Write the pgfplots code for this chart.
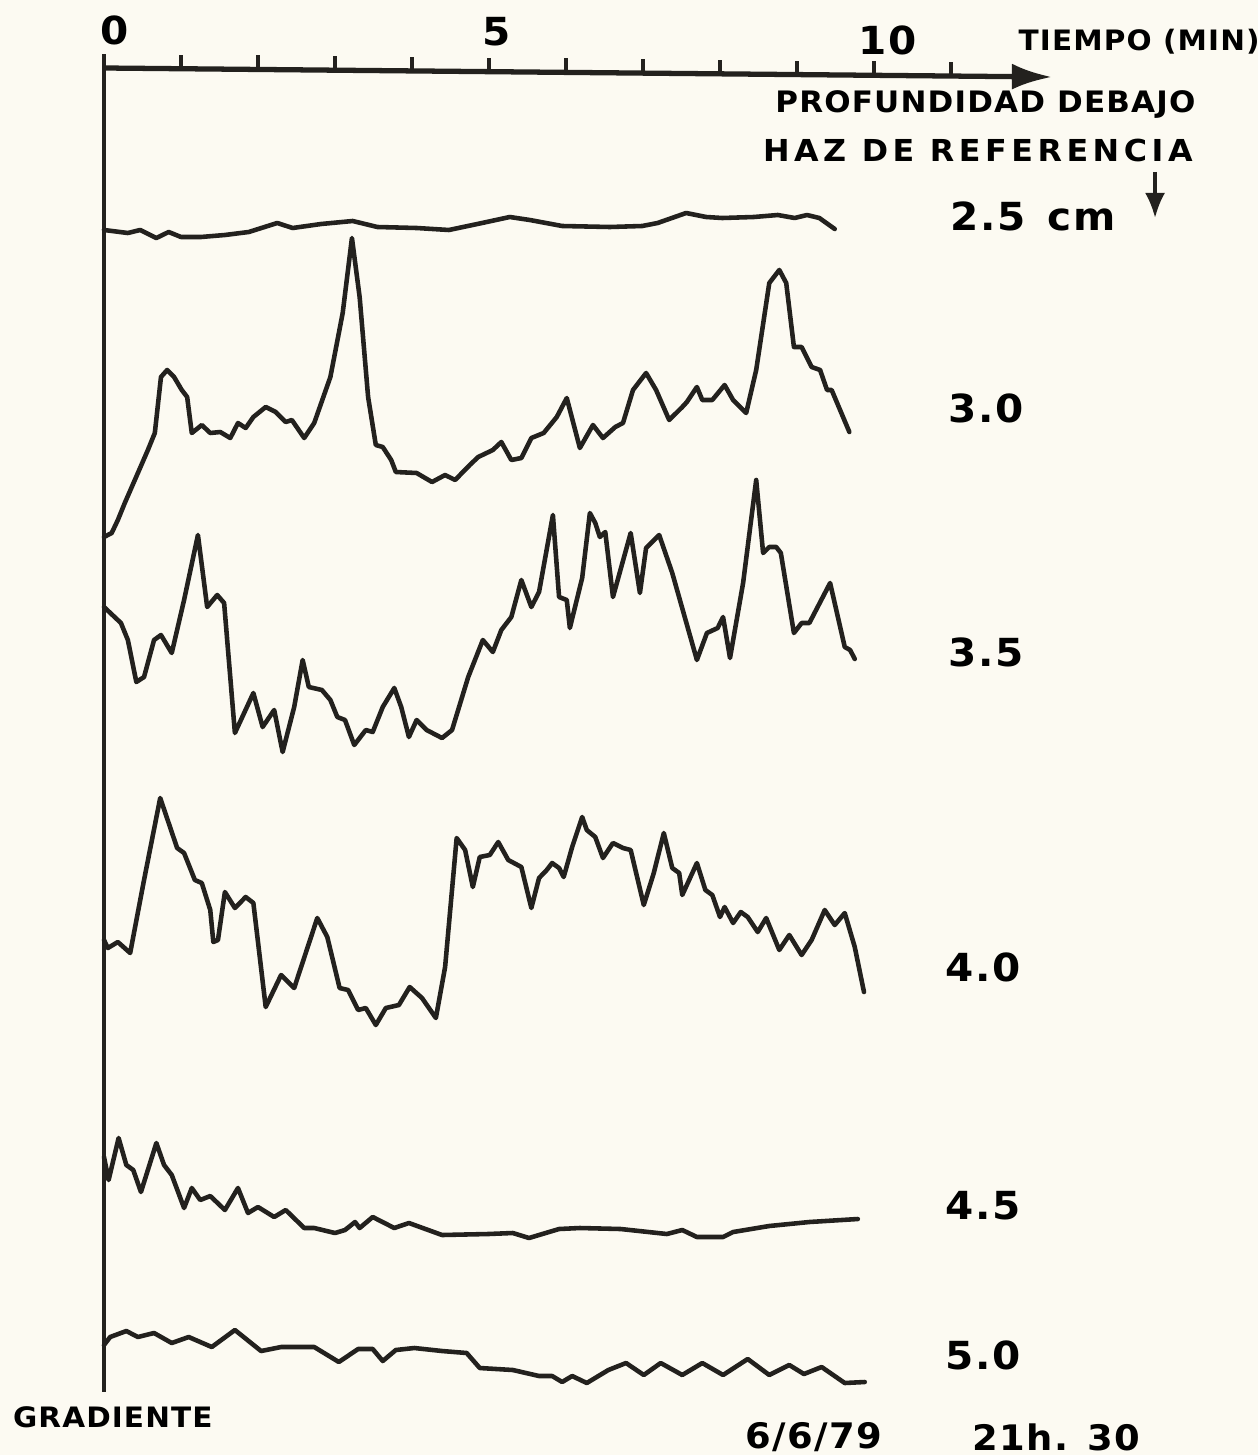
\documentclass[border=0pt]{standalone}
\usepackage{pgfplots}
\pgfplotsset{compat=1.18}
\usepackage{fontspec}
\usetikzlibrary{arrows.meta}
\setmainfont{DejaVu Sans}
\newfontfamily\hand[FakeStretch=1.05,LetterSpace=4]{DejaVu Sans}
\definecolor{paper}{RGB}{252,250,242}
\definecolor{ink}{RGB}{35,33,30}
\begin{document}
\begin{tikzpicture}
\begin{axis}[
  scale only axis, width=125.8mm, height=145.5mm,
  xmin=-1.3506, xmax=14.987, ymin=0, ymax=1455, y dir=reverse,
  hide axis, clip=false, no markers,
  every axis plot post/.append style={ink, solid, line width=1.3pt, line join=round, line cap=round, mark=none},
]
\fill[paper] (rel axis cs:0,0) rectangle (rel axis cs:1,1);
% time axis
\draw[ink, line width=1.5pt, -{Latex[length=4mm,width=2.6mm]}] (axis cs:0,68) -- (axis cs:12.31,77);
\pgfplotsinvokeforeach{0,...,11}{\draw[ink, line width=1pt] (axis cs:#1,{68+0.75*#1}) -- (axis cs:#1,{54+0.75*#1});}
\draw[ink, line width=0.9pt] (axis cs:0,56) -- (axis cs:0,1392);
\node[font=\hand\bfseries\fontsize{11}{12}\selectfont] at (axis cs:0.14,30) {0};
\node[font=\hand\bfseries\fontsize{11}{12}\selectfont] at (axis cs:5.10,32) {5};
\node[font=\hand\bfseries\fontsize{11}{12}\selectfont] at (axis cs:10.18,40) {10};
\node[font=\hand\bfseries\fontsize{8}{10}\selectfont, anchor=west, inner sep=0pt] at (axis cs:11.87,42) {TIEMPO (MIN)};
\node[font=\hand\bfseries\fontsize{8.4}{10}\selectfont, anchor=west, inner sep=0pt] at (axis cs:8.71,105) {PROFUNDIDAD DEBAJO};
\node[font=\hand\bfseries\fontsize{8.6}{10}\selectfont\addfontfeatures{LetterSpace=15}, anchor=west, inner sep=0pt] at (axis cs:8.55,150) {HAZ DE REFERENCIA};
\draw[ink, line width=1pt, -{Latex[length=2.5mm,width=2mm]}] (axis cs:13.65,172) -- (axis cs:13.65,218);
\node[font=\hand\bfseries\fontsize{11}{12}\selectfont, anchor=base west, inner sep=0pt] at (axis cs:10.99,231) {2.5};
\node[font=\hand\bfseries\fontsize{11}{12}\selectfont, anchor=base west, inner sep=0pt] at (axis cs:12.25,231) {cm};
\node[font=\hand\bfseries\fontsize{11}{12}\selectfont, anchor=west, inner sep=0pt] at (axis cs:10.96,408) {3.0};
\node[font=\hand\bfseries\fontsize{11}{12}\selectfont, anchor=west, inner sep=0pt] at (axis cs:10.96,652) {3.5};
\node[font=\hand\bfseries\fontsize{11}{12}\selectfont, anchor=west, inner sep=0pt] at (axis cs:10.92,967) {4.0};
\node[font=\hand\bfseries\fontsize{11}{12}\selectfont, anchor=west, inner sep=0pt] at (axis cs:10.92,1206) {4.5};
\node[font=\hand\bfseries\fontsize{11}{12}\selectfont, anchor=west, inner sep=0pt] at (axis cs:10.92,1355) {5.0};
\node[font=\hand\bfseries\fontsize{8}{10}\selectfont, anchor=west, inner sep=0pt] at (axis cs:-1.19,1417) {GRADIENTE};
\node[font=\hand\bfseries\fontsize{10}{12}\selectfont, anchor=west, inner sep=0pt] at (axis cs:8.32,1437) {6/6/79};
\node[font=\hand\bfseries\fontsize{10}{12}\selectfont, anchor=west, inner sep=0pt] at (axis cs:11.27,1437) {21h. 30};

% 2.5 cm
\addplot coordinates {(0.00,230) (0.31,233) (0.47,230) (0.68,238) (0.84,232) (1.00,237) (1.26,237) (1.57,235) (1.88,232) (2.25,223) (2.45,228) (2.82,224) (3.23,221) (3.55,227) (4.06,228) (4.48,230) (4.91,223) (5.27,217) (5.53,220) (5.95,226) (6.57,227) (6.99,226) (7.19,223) (7.56,213) (7.82,217) (8.03,218) (8.44,217) (8.75,215) (8.97,218) (9.13,215) (9.29,218) (9.49,229)};
% 3.0 cm
\addplot coordinates {(0.00,537) (0.10,533) (0.18,520) (0.27,503) (0.44,473) (0.57,450) (0.66,433) (0.74,377) (0.82,370) (0.91,377) (1.01,390) (1.08,397) (1.14,433) (1.27,425) (1.38,433) (1.51,432) (1.64,438) (1.74,423) (1.84,428) (1.94,417) (2.10,407) (2.23,412) (2.36,422) (2.44,420) (2.60,438) (2.73,423) (2.94,377) (3.10,313) (3.22,238) (3.32,297) (3.43,397) (3.53,445) (3.62,447) (3.73,460) (3.79,472) (4.06,473) (4.26,482) (4.43,475) (4.56,480) (4.75,465) (4.86,457) (5.05,450) (5.16,442) (5.29,460) (5.42,458) (5.55,438) (5.71,433) (5.88,417) (6.01,398) (6.18,448) (6.35,425) (6.48,438) (6.64,427) (6.74,423) (6.87,390) (7.04,373) (7.17,390) (7.34,420) (7.51,407) (7.57,402) (7.70,387) (7.77,400) (7.90,400) (8.06,385) (8.17,400) (8.34,413) (8.47,370) (8.64,283) (8.77,270) (8.86,283) (8.96,347) (9.06,347) (9.19,367) (9.30,370) (9.39,390) (9.45,390) (9.68,432)};
% 3.5 cm
\addplot coordinates {(0.00,607) (0.22,623) (0.31,640) (0.42,682) (0.52,677) (0.65,640) (0.74,635) (0.88,653) (1.04,600) (1.22,535) (1.34,607) (1.47,595) (1.56,603) (1.70,733) (1.94,693) (2.06,727) (2.21,710) (2.32,752) (2.47,707) (2.58,660) (2.66,687) (2.83,690) (2.94,700) (3.03,717) (3.13,720) (3.25,745) (3.40,730) (3.49,732) (3.62,707) (3.77,688) (3.86,707) (3.96,737) (4.06,720) (4.19,730) (4.39,738) (4.52,730) (4.73,677) (4.92,640) (5.05,652) (5.16,630) (5.29,617) (5.42,580) (5.55,607) (5.65,592) (5.83,515) (5.91,597) (6.01,600) (6.05,628) (6.21,578) (6.31,513) (6.38,523) (6.44,537) (6.51,532) (6.61,597) (6.84,533) (6.96,593) (7.04,548) (7.21,535) (7.38,573) (7.70,660) (7.83,633) (7.97,628) (8.04,617) (8.13,658) (8.30,583) (8.47,480) (8.56,553) (8.64,547) (8.73,547) (8.79,553) (8.96,633) (9.06,623) (9.16,623) (9.43,583) (9.62,647) (9.69,650) (9.75,659)};
% 4.0 cm
\addplot coordinates {(0.00,940) (0.05,948) (0.18,942) (0.34,953) (0.52,880) (0.73,798) (0.95,848) (1.04,853) (1.18,880) (1.27,883) (1.38,910) (1.42,942) (1.48,940) (1.57,892) (1.70,908) (1.84,897) (1.94,903) (2.10,1007) (2.30,975) (2.47,988) (2.77,918) (2.90,937) (3.06,988) (3.17,990) (3.30,1010) (3.40,1008) (3.53,1025) (3.66,1008) (3.83,1005) (3.97,987) (4.13,998) (4.31,1018) (4.43,967) (4.58,838) (4.69,850) (4.79,887) (4.88,857) (5.01,855) (5.12,842) (5.25,860) (5.42,867) (5.55,908) (5.65,878) (5.75,870) (5.82,863) (5.91,868) (5.97,877) (6.08,847) (6.21,817) (6.27,830) (6.38,837) (6.48,858) (6.61,843) (6.74,848) (6.84,850) (7.01,905) (7.14,873) (7.27,833) (7.38,868) (7.47,873) (7.51,895) (7.70,863) (7.81,890) (7.90,895) (8.00,917) (8.06,907) (8.17,923) (8.27,912) (8.36,917) (8.49,932) (8.60,918) (8.77,950) (8.90,935) (9.06,955) (9.19,940) (9.36,910) (9.49,925) (9.62,913) (9.75,947) (9.87,992)};
% 4.5 cm
\addplot coordinates {(0.00,1157) (0.06,1180) (0.19,1138) (0.29,1165) (0.38,1170) (0.48,1192) (0.68,1143) (0.78,1165) (0.88,1175) (1.04,1208) (1.14,1188) (1.25,1200) (1.38,1196) (1.57,1210) (1.74,1188) (1.87,1213) (2.00,1207) (2.21,1217) (2.36,1210) (2.60,1228) (2.73,1228) (3.00,1233) (3.13,1230) (3.26,1222) (3.32,1228) (3.49,1217) (3.77,1228) (3.96,1223) (4.39,1235) (4.99,1234) (5.31,1233) (5.52,1238) (5.91,1229) (6.18,1228) (6.71,1229) (7.31,1234) (7.51,1230) (7.70,1237) (8.04,1237) (8.17,1232) (8.64,1226) (9.16,1222) (9.79,1219)};
% 5.0 cm
\addplot coordinates {(0.00,1345) (0.08,1337) (0.29,1331) (0.44,1337) (0.65,1333) (0.88,1343) (1.10,1337) (1.40,1347) (1.70,1330) (2.04,1351) (2.30,1347) (2.73,1347) (3.05,1362) (3.30,1349) (3.49,1349) (3.62,1361) (3.79,1350) (4.03,1348) (4.39,1351) (4.71,1353) (4.88,1368) (5.31,1370) (5.65,1376) (5.82,1376) (5.95,1382) (6.08,1376) (6.27,1383) (6.55,1370) (6.78,1363) (7.01,1375) (7.23,1363) (7.51,1375) (7.77,1363) (8.04,1375) (8.36,1359) (8.64,1375) (8.90,1365) (9.09,1374) (9.32,1367) (9.62,1383) (9.88,1382)};
\end{axis}
\end{tikzpicture}
\end{document}
